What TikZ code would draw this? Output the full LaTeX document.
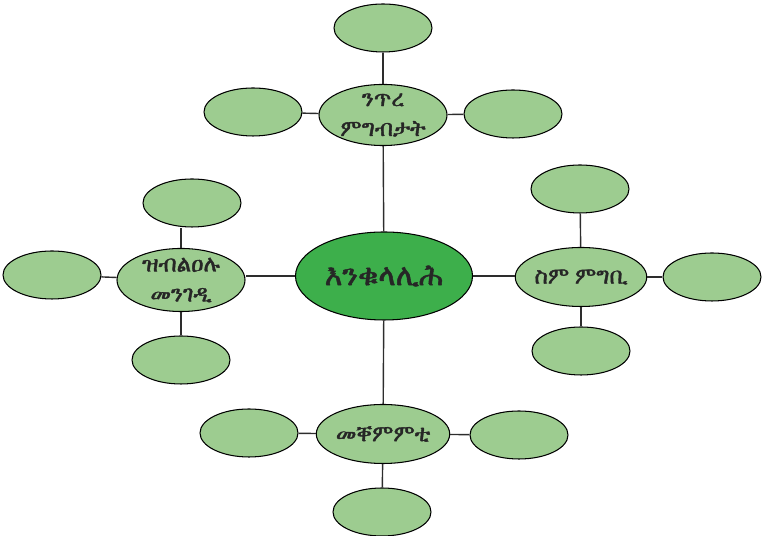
\documentclass[tikz,border=0pt]{standalone}
\usepackage{fontspec}
\usetikzlibrary{shapes.geometric}
\IfFontExistsTF{FreeSerif.otf}{\newfontfamily\ethfont{FreeSerif.otf}[FakeBold=1.6]}{%
\IfFontExistsTF{FreeSerif}{\newfontfamily\ethfont{FreeSerif}[FakeBold=1.6]}{%
\newfontfamily\ethfont{DejaVu Sans}}}
\definecolor{leafgreen}{RGB}{157,204,144}
\definecolor{hubgreen}{RGB}{61,175,75}
\definecolor{linkgray}{RGB}{45,45,45}
\tikzset{
  leaf/.style={ellipse,draw=black,line width=0.6pt,fill=leafgreen,minimum width=1.96cm,minimum height=0.96cm,inner sep=0pt},
  branch/.style={leaf,minimum width=2.56cm,minimum height=1.18cm,font=\ethfont\fontsize{13}{17}\selectfont,align=center,text=black!85},
  hub/.style={leaf,fill=hubgreen,minimum width=3.54cm,minimum height=1.76cm,font=\ethfont\fontsize{17}{20}\selectfont,text=black!85},
  link/.style={draw=linkgray,line width=0.8pt}
}
\begin{document}
\begin{tikzpicture}
\useasboundingbox (0,0) rectangle (15.24,10.72);
\node[hub] (hub) at (7.68,5.20) {እንቁላሊሕ};
\node[branch] (top) at (7.66,8.42) {ንጥረ\\ምግብታት};
\node[branch] (left) at (3.62,5.12) {ዝብልዐሉ\\መንገዲ};
\node[branch] (right) at (11.62,5.18) {ስም ምግቢ};
\node[branch] (bottom) at (7.66,2.04) {መቐምምቲ};
\node[leaf] (topup) at (7.66,10.16) {};
\node[leaf] (topleft) at (5.06,8.48) {};
\node[leaf] (topright) at (10.26,8.44) {};
\node[leaf] (leftup) at (3.84,6.66) {};
\node[leaf] (leftleft) at (1.04,5.22) {};
\node[leaf] (leftdown) at (3.62,3.52) {};
\node[leaf] (rightup) at (11.60,6.94) {};
\node[leaf] (rightright) at (14.24,5.18) {};
\node[leaf] (rightdown) at (11.62,3.70) {};
\node[leaf] (bottomleft) at (4.98,2.06) {};
\node[leaf] (bottomright) at (10.38,2.02) {};
\node[leaf] (bottomdown) at (7.64,0.48) {};
\draw[link] (hub) -- (top);
\draw[link] (hub) -- (bottom);
\draw[link] (hub.west) -- (left.east |- hub.west);
\draw[link] (hub.east) -- (right.west |- hub.east);
\draw[link] (top) -- (topup);
\draw[link] (top) -- (topleft);
\draw[link] (top) -- (topright);
\draw[link] (left.north) -- (left.north |- leftup.south);
\draw[link] (left) -- (leftleft);
\draw[link] (left) -- (leftdown);
\draw[link] (right) -- (rightup);
\draw[link] (right) -- (rightright);
\draw[link] (right) -- (rightdown);
\draw[link] (bottom) -- (bottomleft);
\draw[link] (bottom) -- (bottomright);
\draw[link] (bottom) -- (bottomdown);
\end{tikzpicture}
\end{document}
